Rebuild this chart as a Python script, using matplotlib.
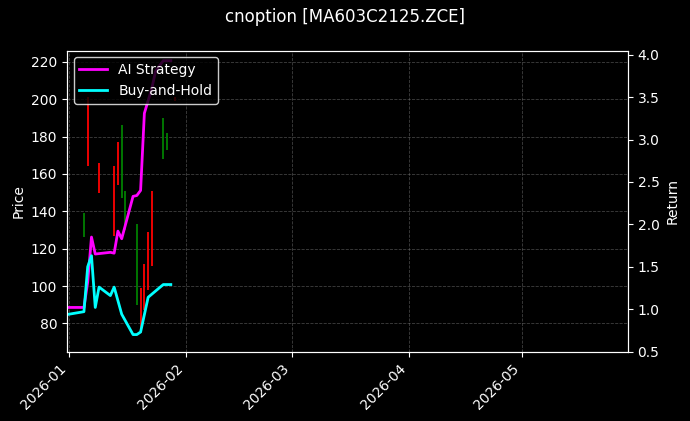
import numpy as np
import pandas as pd
import matplotlib
matplotlib.use("Agg")
import matplotlib.pyplot as plt
import matplotlib.dates as mdates

plt.style.use("dark_background")

# candles: date, low, high, colour
candle_dates = pd.to_datetime(["2026-01-05", "2026-01-06", "2026-01-09", "2026-01-13", "2026-01-14",
                               "2026-01-15", "2026-01-16", "2026-01-19", "2026-01-20", "2026-01-21",
                               "2026-01-22", "2026-01-23", "2026-01-26", "2026-01-27", "2026-01-29"])
candle_low = [126, 164, 150, 127, 154, 147, 130, 90, 75, 87, 98, 111, 168, 173, 199]
candle_high = [139, 201, 166, 164, 177, 186, 151, 133, 99, 112, 129, 151, 190, 182, 201]
candle_color = ["green", "red", "red", "red", "red", "green", "green", "green", "red", "red",
                "red", "red", "green", "green", "red"]

ai_dates = pd.to_datetime(["2026-01-01", "2026-01-05", "2026-01-06", "2026-01-07", "2026-01-08",
                           "2026-01-12", "2026-01-13", "2026-01-14", "2026-01-15", "2026-01-18",
                           "2026-01-19", "2026-01-20", "2026-01-21", "2026-01-23", "2026-01-24",
                           "2026-01-26", "2026-01-28"])
ai_ret = [1.02, 1.02, 1.32, 1.85, 1.65, 1.67, 1.66, 1.92, 1.83, 2.33, 2.34, 2.40, 3.31, 3.61, 3.81, 3.93, 3.93]

bh_dates = pd.to_datetime(["2026-01-01", "2026-01-05", "2026-01-06", "2026-01-07", "2026-01-08",
                           "2026-01-09", "2026-01-12", "2026-01-13", "2026-01-15", "2026-01-18",
                           "2026-01-19", "2026-01-20", "2026-01-22", "2026-01-26", "2026-01-28"])
bh_ret = [0.94, 0.97, 1.50, 1.63, 1.02, 1.26, 1.16, 1.26, 0.94, 0.70, 0.70, 0.73, 1.14, 1.29, 1.29]

fig, ax = plt.subplots(figsize=(6.9, 4.21), dpi=100)
fig.patch.set_facecolor("black")
ax.set_facecolor("black")
ax.vlines(candle_dates, candle_low, candle_high, colors=candle_color, linewidth=1.3)
ax.set_ylim(65, 226)
ax.set_ylabel("Price")
ax.grid(True, linestyle="--", color="gray", alpha=0.5, linewidth=0.6)

ax2 = ax.twinx()
ax2.plot(ai_dates, ai_ret, color="#ff00ff", linewidth=2, label="AI Strategy")
ax2.plot(bh_dates, bh_ret, color="cyan", linewidth=2, label="Buy-and-Hold")
ax2.set_ylim(0.5, 4.05)
ax2.set_ylabel("Return")
ax2.legend(loc="upper left", facecolor="black", edgecolor="white", framealpha=0.8)

ax.set_xlim(pd.Timestamp("2025-12-31 12:00"), pd.Timestamp("2026-05-29"))
ax.xaxis.set_major_locator(mdates.MonthLocator())
ax.xaxis.set_major_formatter(mdates.DateFormatter("%Y-%m"))
plt.setp(ax.get_xticklabels(), rotation=45, ha="right")

fig.suptitle("cnoption [MA603C2125.ZCE]", y=0.98)
fig.subplots_adjust(left=0.097, right=0.91, top=0.88, bottom=0.165)
fig.savefig("out.png", dpi=100, facecolor="black")
